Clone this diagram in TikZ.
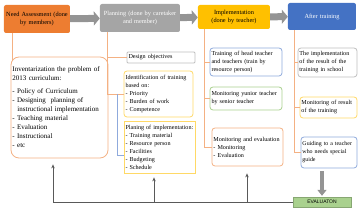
\documentclass[tikz,border=0pt]{standalone}
\usepackage{fontspec}
\setmainfont{Liberation Serif}
\newfontfamily\evalfont{Liberation Sans}
\usepackage{xcolor}
\usetikzlibrary{arrows.meta,positioning}

\definecolor{naorange}{HTML}{ED7D31}
\definecolor{plangray}{HTML}{A5A5A5}
\definecolor{implyellow}{HTML}{FFC000}
\definecolor{afterblue}{HTML}{4472C4}
\definecolor{lineorange}{HTML}{F4B183}
\definecolor{boxyellow}{HTML}{FFD966}
\definecolor{boxblue}{HTML}{8FAADC}
\definecolor{boxgreen}{HTML}{A9D18E}
\definecolor{boxgray}{HTML}{BFBFBF}
\definecolor{evalgreen}{HTML}{A9D18E}
\definecolor{fbgray}{HTML}{595959}
\newcommand\nohyph{\hyphenpenalty=10000\relax}

\begin{document}
\begin{tikzpicture}[
    x=1pt, y=-1pt,
    head/.style={rounded corners=2pt, minimum height=28pt, inner sep=1pt, align=center,
        font=\fontsize{6.3}{8.2}\selectfont\nohyph},
    item/.style={draw, line width=0.8pt, rounded corners=3pt, inner sep=1.5pt, align=left,
        font=\fontsize{6.1}{8}\selectfont\nohyph, fill=white},
    conn/.style={lineorange, line width=0.9pt},
    bconn/.style={boxblue, line width=0.9pt},
    blockarr/.style={plangray!90!black, line width=7pt, -{Triangle[length=6pt,width=14pt]}},
    fbline/.style={fbgray, line width=0.8pt},
    fbarr/.style={fbline, -{Stealth[length=4pt,width=3.5pt]}}
]
    \useasboundingbox (0,0) rectangle (360,211);

    % Header row
    \node[head, fill=naorange, minimum width=66pt, text width=64pt] (na) at (37,19) {Need Assessment (done\\by members)};
    \node[head, fill=plangray, text=white, minimum width=80pt, text width=78pt] (plan) at (140,18) {Planning (done by caretaker\\and member)};
    \node[head, fill=implyellow, minimum width=72pt, minimum height=24pt, text width=70pt] (impl) at (234,17) {Implementation\\(done by teacher)};
    \node[head, fill=afterblue, text=white, minimum width=68pt, minimum height=27pt, text width=66pt] (after) at (322,16.5) {After training};

    % Header arrows
    \draw[blockarr] (na) -- (plan);
    \draw[blockarr] (plan) -- (impl);
    \draw[blockarr] (impl) -- (after);

    % Need assessment column
    \node[item, draw=lineorange, rounded corners=8pt, minimum width=97pt, minimum height=101pt, text width=94pt,
        font=\fontsize{7}{9}\selectfont\nohyph] (inv) at (59.5,107.5)
        {Inventarization the problem of\\2013 curriculum:\\[4pt]
         - Policy of Curriculum\\
         - Designing\ \ planning of\\
         \hspace*{5pt}instructional implementation\\
         - Teaching material\\
         - Evaluation\\
         - Instructional\\
         - etc};

    % Planning column
    \node[item, draw=boxgray, rounded corners=1pt, minimum width=68pt, minimum height=11pt, text width=65pt] (des) at (161,57.5) {Design objectives};
    \node[item, draw=boxyellow, minimum width=69pt, minimum height=46pt, text width=66pt] (ident) at (158.5,94)
        {Identification of training\\based on:\\- Priority\\- Burden of work\\- Competence};
    \node[item, draw=boxyellow, rounded corners=0pt, minimum width=71pt, minimum height=52pt, text width=68pt] (planimp) at (159.5,147)
        {Planing of implementation:\\- Training material\\- Resource person\\- Facilities\\- Budgeting\\- Schedule};

    % Implementation column
    \node[item, draw=boxblue, minimum width=72pt, minimum height=28pt, text width=69pt] (train) at (246,62)
        {Training of head teacher\\and teachers (train by\\resource person)};
    \node[item, draw=boxgreen, minimum width=72pt, minimum height=23pt, text width=69pt] (mony) at (246,98.5)
        {Monitoring yunior teacher\\by senior teacher};
    \node[item, draw=lineorange, minimum width=71pt, minimum height=38pt, text width=68pt] (moneval) at (247.5,147)
        {Monitoring and evaluation\\- Monitoring\\- Evaluation};

    % After training column
    \node[item, draw=boxgray, minimum width=59pt, minimum height=29pt, text width=56pt] (res) at (327.5,62.5)
        {The implementation\\of the result of the\\training in school};
    \node[item, draw=boxyellow, minimum width=57pt, minimum height=21pt, text width=54pt] (monres) at (328.5,107.5)
        {Monitoring of result\\of the training};
    \node[item, draw=boxblue, minimum width=56pt, minimum height=31pt, text width=53pt,
        font=\fontsize{5.9}{8}\selectfont\nohyph] (guide) at (329,152.5)
        {Guiding to a teacher\\who needs special\\guide};

    % Evaluation
    \node[fill=evalgreen, draw=boxgreen!80!black, line width=0.4pt, minimum width=58pt, minimum height=10pt, inner sep=0pt,
        font=\evalfont\fontsize{5}{6}\selectfont] (eval) at (322,202) {EVALUATON};

    % Branch lines
    \draw[conn] ([xshift=2pt]inv.north west |- na.south) -- ([xshift=2pt,yshift=-4pt]inv.north west);
    \draw[conn] ([xshift=8pt]plan.south west) |- (des.west);
    \draw[conn] ([xshift=8pt]plan.south west) |- (ident.west);
    \draw[bconn] ([xshift=-6pt]ident.west) |- ([yshift=-8pt]planimp.west);
    \draw[conn] ([xshift=7pt]impl.south west) |- (train.west);
    \draw[conn] ([xshift=7pt]impl.south west) |- (mony.west);
    \draw[conn] ([xshift=7pt]impl.south west) |- (moneval.west);
    \draw[conn] ([xshift=7pt]after.south west) |- (res.west);
    \draw[conn] ([xshift=7pt]after.south west) |- (monres.west);
    \draw[conn] ([xshift=7pt]after.south west) |- (guide.west);

    % Down arrow to evaluation
    \draw[plangray!90!black, line width=4pt, -{Triangle[length=6pt,width=9pt]}] ([yshift=-3pt]guide.south -| eval.north) -- ([yshift=1pt]eval.north);

    % Feedback lines
    \draw[fbarr] (eval.west) -| ([xshift=-6.5pt,yshift=-6pt]inv.south);
    \draw[fbarr] ([xshift=-5.5pt]planimp.south |- eval.west) -- ([xshift=-5.5pt,yshift=-4pt]planimp.south);
    \draw[fbarr] ([xshift=-0.5pt]moneval.south |- eval.west) -- ([xshift=-0.5pt,yshift=-7pt]moneval.south);
\end{tikzpicture}
\end{document}
